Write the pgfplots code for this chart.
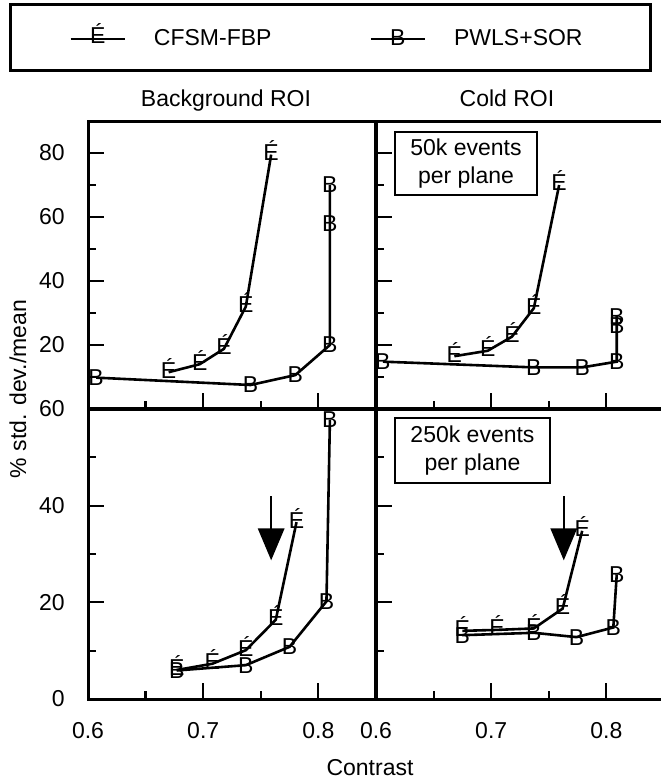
\documentclass[border=0pt]{standalone}
\usepackage{pgfplots}
\pgfplotsset{compat=1.18}
\usepackage{fontspec}
\setmainfont{Liberation Sans}
\newcommand\fs{\fontsize{11.5}{13.8}\selectfont}
\begin{document}
\begin{tikzpicture}[font=\fs]
\pgfplotsset{
 panel/.style={scale only axis, anchor=south west, width=144pt, xmin=0.6, xmax=0.85, clip=false,
   axis line style={line width=1.5pt}, tick style={line width=1.1pt, black},
   major tick length=8pt, minor tick length=4pt,
   tick align=inside, tick pos=left, xtick={0.6,0.7,0.8}, minor xtick={0.65,0.75},
   /pgf/number format/assume math mode=true,
   tick label style={font=\fs},
   yticklabel style={anchor=east, inner sep=0pt, xshift=-11.5pt},
   xticklabel style={anchor=center, inner sep=0pt, yshift=-16pt},
   every axis plot/.append style={line width=1.3pt, black},
   legend image code/.code={\draw[mark repeat=2,mark phase=2,##1] plot coordinates {(0pt,0pt) (13.5pt,0pt) (27pt,0pt)};},
 },
 cf/.style={mark=text, text mark={É}, text mark as node=true, text mark style={font=\fs, inner sep=0pt, anchor=center, yshift=2pt}},
 pw/.style={mark=text, text mark={B}, text mark as node=true, text mark style={font=\fs, inner sep=0pt, anchor=center}},
 top/.style={height=144pt, ymin=0, ymax=90, ytick={20,40,60,80}, minor ytick={10,30,50,70,90}, xticklabels={}},
 bot/.style={height=145pt, ymin=0, ymax=60, ytick={0,20,40,60}, minor ytick={10,30,50}, xticklabels={0.6,0.7,0.8}},
}
% Top-left: Background ROI, 50k
\begin{axis}[panel, top, at={(44pt,187pt)},
  legend columns=2, legend cell align=left,
  legend style={draw=none, fill=none, inner sep=0pt, at={(-0.0660,1.2951)}, anchor=west,
    nodes={inner sep=0pt},
    /tikz/every odd column/.append style={column sep=14pt},
    /tikz/every even column/.append style={column sep=49pt}}]
\addplot[cf] coordinates {(0.670,11.5) (0.697,14.0) (0.718,18.8) (0.737,32.0) (0.759,79.5)};
\addlegendentry{CFSM-FBP}
\addplot[pw] coordinates {(0.607,9.8) (0.741,7.5) (0.780,10.6) (0.810,20.0) (0.810,58.0) (0.810,70.0)};
\addlegendentry{PWLS+SOR}
\end{axis}
% Top-right: Cold ROI, 50k
\begin{axis}[panel, top, at={(188pt,187pt)}, yticklabels={}]
\addplot[cf] coordinates {(0.668,16.5) (0.697,18.2) (0.718,22.6) (0.737,31.5) (0.759,70.0)};
\addplot[pw] coordinates {(0.606,14.8) (0.737,13.0) (0.779,13.0) (0.809,14.8) (0.809,26.0) (0.809,29.0)};
\end{axis}
% Bottom-left: Background ROI, 250k
\begin{axis}[panel, bot, at={(44pt,42pt)}]
\addplot[cf] coordinates {(0.677,6.0) (0.708,7.3) (0.737,10.1) (0.763,16.4) (0.781,36.6)};
\addplot[pw] coordinates {(0.677,5.9) (0.737,7.0) (0.775,10.8) (0.807,20.2) (0.810,57.8)};
\draw[line width=1pt] (axis cs:0.759,42) -- (axis cs:0.759,34);
\fill (axis cs:0.759,28.7) -- ++(-6.75pt,16pt) -- ++(13.5pt,0pt) -- cycle;
\end{axis}
% Bottom-right: Cold ROI, 250k
\begin{axis}[panel, bot, at={(188pt,42pt)}, yticklabels={}]
\addplot[cf] coordinates {(0.675,14.1) (0.705,14.3) (0.737,14.6) (0.762,18.7) (0.779,34.8)};
\addplot[pw] coordinates {(0.675,13.2) (0.737,13.7) (0.774,12.8) (0.806,14.8) (0.809,25.8)};
\draw[line width=1pt] (axis cs:0.763,42) -- (axis cs:0.763,34);
\fill (axis cs:0.763,28.7) -- ++(-6.75pt,16pt) -- ++(13.5pt,0pt) -- cycle;
\end{axis}
% annotations
\draw[line width=1.5pt] (5pt,356pt) rectangle (325pt,389pt);
\node[anchor=base, inner sep=0pt] at (113pt,338pt) {Background ROI};
\node[anchor=base, inner sep=0pt] at (253.5pt,338pt) {Cold ROI};
\node[draw, fill=white, line width=1pt, minimum width=71pt, minimum height=31.5pt, align=center, inner sep=0pt] at (233pt,309.75pt) {50k events\\per plane};
\node[draw, fill=white, line width=1pt, minimum width=77.5pt, minimum height=32.5pt, align=center, inner sep=0pt] at (236.25pt,166.25pt) {250k events\\per plane};
\node[rotate=90, inner sep=0pt] at (9pt,197pt) {\% std. dev./mean};
\node[anchor=base, inner sep=0pt] at (185pt,3.5pt) {Contrast};
\pgfresetboundingbox
\useasboundingbox (0,0) rectangle (330pt,391.5pt);
\end{tikzpicture}
\end{document}
